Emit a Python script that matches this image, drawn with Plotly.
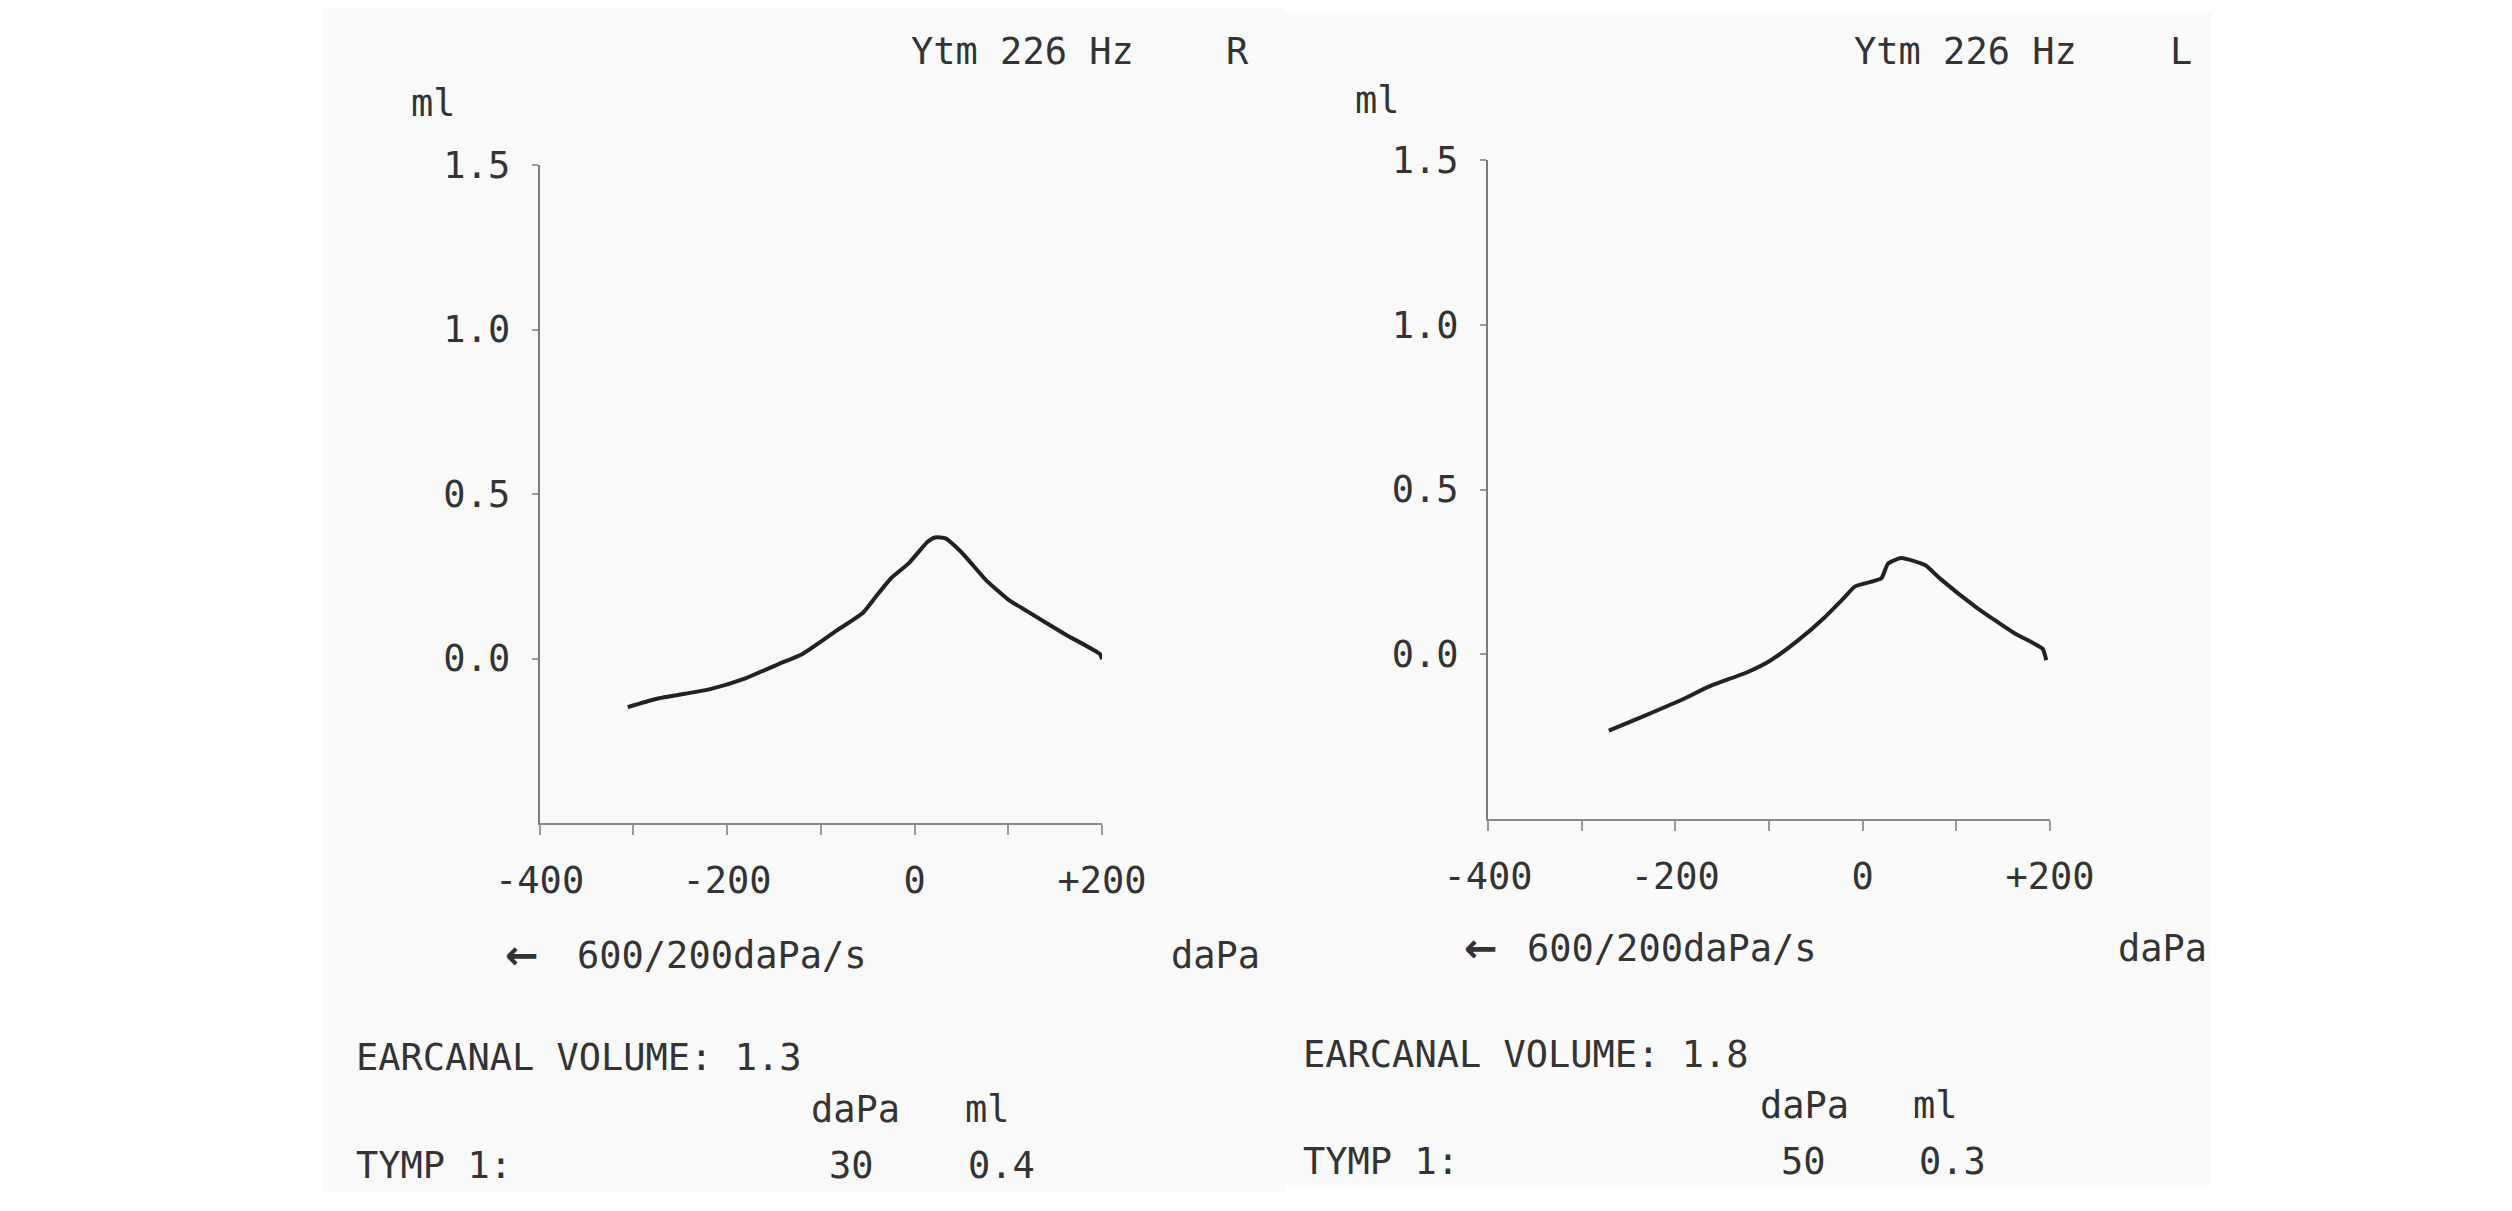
import plotly.graph_objects as go

# ---------------- data ----------------
# Right ear (R) tympanogram: pressure (daPa) vs compliance (ml)
r_pressure = [-306, -276, -218, -182, -145, -120, -84, -55, -41, -25, -6, 14, 22, 33, 51, 76, 100, 120, 161, 198, 200]
r_volume = [-0.148, -0.123, -0.093, -0.062, -0.017, 0.013, 0.083, 0.139, 0.189, 0.244, 0.290, 0.355, 0.368, 0.365, 0.320, 0.239, 0.179, 0.144, 0.073, 0.013, -0.002]

# Left ear (L) tympanogram
l_pressure = [-271, -233, -196, -163, -122, -98, -69, -41, -20, -8, 20, 27, 41, 67, 82, 122, 163, 192, 196]
l_volume = [-0.232, -0.187, -0.142, -0.097, -0.053, -0.018, 0.042, 0.111, 0.171, 0.206, 0.231, 0.275, 0.292, 0.270, 0.231, 0.141, 0.062, 0.017, -0.018]

y_tickvals = [0.0, 0.5, 1.0, 1.5]
y_ticktext = ["0.0", "0.5", "1.0", "1.5"]
x_tickvals = [-400, -300, -200, -100, 0, 100, 200]
x_ticktext = ["-400", "", "-200", "", "0", "", "+200"]

ear_labels = ["R", "L"]
earcanal_volume = ["1.3", "1.8"]
tymp_dapa = ["30", "50"]
tymp_ml = ["0.4", "0.3"]

# ---------------- layout helpers ----------------
W, H = 2512, 1211
OFF = 8  # page body margin compensation
FONT = "DejaVu Sans Mono"
TXT = "#333333"
FS = 37


def px(x):
    return (x - OFF) / W


def py(y):
    return 1 - (y - OFF) / H


fig = go.Figure()

line_style = dict(color="#222222", width=4, shape="spline", smoothing=0.5)
fig.add_trace(go.Scatter(x=r_pressure, y=r_volume, mode="lines", line=line_style,
                         xaxis="x", yaxis="y", showlegend=False, hoverinfo="x+y"))
fig.add_trace(go.Scatter(x=l_pressure, y=l_volume, mode="lines", line=line_style,
                         xaxis="x2", yaxis="y2", showlegend=False, hoverinfo="x+y"))


def xaxis_cfg(dom, anchor):
    return dict(domain=dom, anchor=anchor, range=[-400, 200], showgrid=False, zeroline=False,
                automargin=False,
                showline=True, linecolor="#8a8a8a", linewidth=2,
                tickmode="array", tickvals=x_tickvals, ticktext=x_ticktext,
                ticks="outside", ticklen=10, tickwidth=2, tickcolor="#9a9a9a",
                ticklabelstandoff=14,
                tickfont=dict(family=FONT, size=FS, color=TXT), fixedrange=True)


def yaxis_cfg(dom, anchor):
    return dict(domain=dom, anchor=anchor, range=[-0.5, 1.5], showgrid=False, zeroline=False,
                automargin=False,
                showline=True, linecolor="#7a7a7a", linewidth=2,
                tickmode="array", tickvals=y_tickvals, ticktext=y_ticktext,
                ticks="outside", ticklen=6, tickwidth=2, tickcolor="#9a9a9a",
                ticklabelstandoff=14,
                tickfont=dict(family=FONT, size=FS, color=TXT), fixedrange=True)


annotations = []


def txt(x, y, s, anchor="left", size=FS, family=FONT):
    annotations.append(dict(x=px(x), y=py(y), xref="paper", yref="paper", text=s, showarrow=False,
                            xanchor=anchor, yanchor="middle",
                            font=dict(family=family, size=size, color=TXT)))


# panel text positions (pixel offsets for each panel)
panels = [
    dict(hz=909, ear=1237, ml=409, mly=103, arrow=522, rate=575, rowy=955, unit=1169,
         ecv=354, ecvy=1057, hdr_dapa=809, hdr_ml=963, hdry=1109, tymp=354, tympy=1165, val_dapa=827, val_ml=966),
    dict(hz=1852, ear=2181, ml=1353, mly=100, arrow=1481, rate=1525, rowy=948, unit=2116,
         ecv=1301, ecvy=1054, hdr_dapa=1758, hdr_ml=1911, hdry=1105, tymp=1301, tympy=1161, val_dapa=1779, val_ml=1917),
]

for i, p in enumerate(panels):
    txt(p["hz"], 51, "Ytm 226 Hz")
    txt(p["ear"], 51, ear_labels[i], anchor="center")
    txt(p["ml"], p["mly"], "ml")
    txt(p["arrow"], p["rowy"], "<b>\u2190</b>", anchor="center", size=40, family="DejaVu Sans")
    txt(p["rate"], p["rowy"], "600/200daPa/s")
    txt(p["unit"], p["rowy"], "daPa")
    txt(p["ecv"], p["ecvy"], "EARCANAL VOLUME: " + earcanal_volume[i])
    txt(p["hdr_dapa"], p["hdry"], "daPa")
    txt(p["hdr_ml"], p["hdry"], "ml")
    txt(p["tymp"], p["tympy"], "TYMP 1:")
    txt(p["val_dapa"], p["tympy"], tymp_dapa[i])
    txt(p["val_ml"], p["tympy"], tymp_ml[i])

shapes = [
    dict(type="rect", xref="paper", yref="paper", x0=px(322), x1=px(1285), y0=py(1192), y1=py(6),
         fillcolor="#f9f9f9", line=dict(width=0), layer="below"),
    dict(type="rect", xref="paper", yref="paper", x0=px(1285), x1=px(2212), y0=py(1185), y1=py(12),
         fillcolor="#fafafa", line=dict(width=0), layer="below"),
]

fig.update_layout(
    template="none",
    width=W, height=H, autosize=False,
    margin=dict(l=0, r=0, t=0, b=0, pad=0, autoexpand=False),
    paper_bgcolor="#ffffff", plot_bgcolor="rgba(0,0,0,0)",
    xaxis=xaxis_cfg([px(539.6), px(1102)], "y"),
    yaxis=yaxis_cfg([py(823), py(165)], "x"),
    xaxis2=xaxis_cfg([px(1488), px(2050)], "y2"),
    yaxis2=yaxis_cfg([py(819), py(160)], "x2"),
    annotations=annotations,
    shapes=shapes,
    showlegend=False,
)

fig.write_html("out.html", config={"displayModeBar": False})
